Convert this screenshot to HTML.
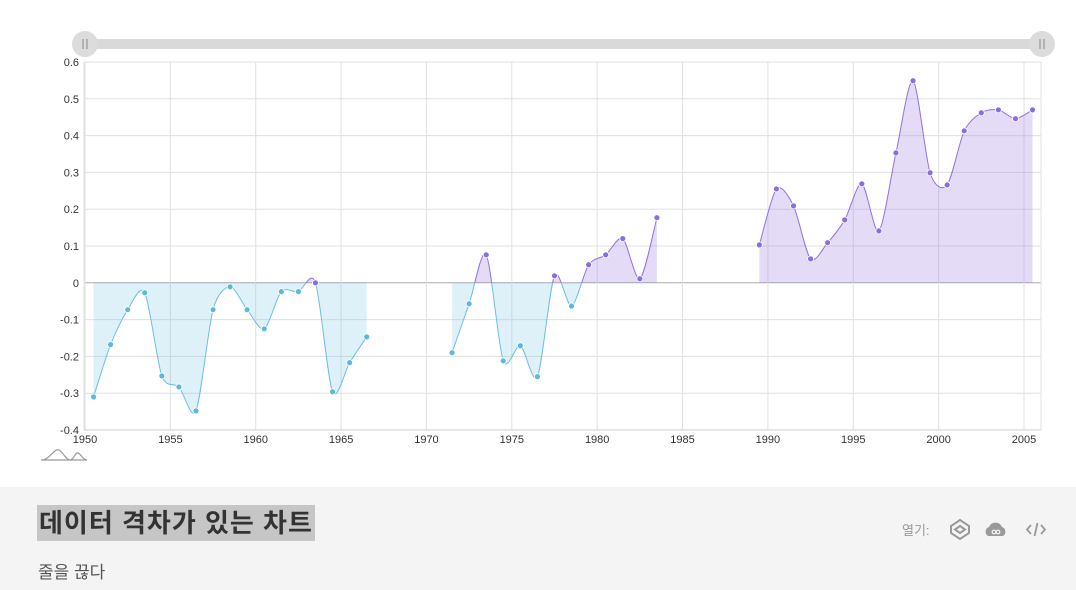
<!DOCTYPE html>
<html><head><meta charset="utf-8">
<style>
body{margin:0;width:1076px;height:590px;overflow:hidden;background:#fff;font-family:"Liberation Sans","Noto Sans CJK KR",sans-serif;}
#footer{position:absolute;left:0;top:487px;width:1076px;height:103px;background:#f4f4f4;}
#title{position:absolute;left:37px;top:18px;height:36px;line-height:36px;padding:0 2px;background:#c6c6c6;font-size:26px;letter-spacing:1px;font-weight:bold;color:#333;}
#sub{position:absolute;left:38px;top:71px;font-size:17px;color:#555;}
#open{position:absolute;left:902px;top:33px;font-size:13px;color:#999;}
</style></head><body>
<svg id="chart" width="1076" height="487" style="position:absolute;left:0;top:0"></svg>
<div id="footer">
<div id="title">데이터 격차가 있는 차트</div>
<div id="sub">줄을 끊다</div>
<div id="open">열기:</div>
<svg style="position:absolute;left:948px;top:31px" width="100" height="22">
<g fill="none" stroke="#999" stroke-width="2"><polygon points="12,2 21,8 21,15 12,21 3,15 3,8"/><polygon points="12,8 17,11.5 12,15 7,11.5"/></g>
<g><path d="M40,18 a5,5 0 0 1 1,-9 a7,7 0 0 1 13,0 a5,5 0 0 1 1,9z" fill="#999"/><circle cx="46" cy="14" r="1.8" fill="none" stroke="#f4f4f4" stroke-width="1.2"/><circle cx="50" cy="14" r="1.8" fill="none" stroke="#f4f4f4" stroke-width="1.2"/></g>
<g fill="none" stroke="#999" stroke-width="1.8"><polyline points="83,7 79,11.5 83,16"/><polyline points="93,7 97,11.5 93,16"/><line x1="89.5" y1="5" x2="86.5" y2="18"/></g>
</svg>
</div>
<script>
const years=[1950.5,1951.5,1952.5,1953.5,1954.5,1955.5,1956.5,1957.5,1958.5,1959.5,1960.5,1961.5,1962.5,1963.5,1964.5,1965.5,1966.5,1967.5,1968.5,1969.5,1970.5,1971.5,1972.5,1973.5,1974.5,1975.5,1976.5,1977.5,1978.5,1979.5,1980.5,1981.5,1982.5,1983.5,1984.5,1985.5,1986.5,1987.5,1988.5,1989.5,1990.5,1991.5,1992.5,1993.5,1994.5,1995.5,1996.5,1997.5,1998.5,1999.5,2000.5,2001.5,2002.5,2003.5,2004.5,2005.5];
const values=[-0.31,-0.168,-0.073,-0.027,-0.253,-0.283,-0.348,-0.073,-0.011,-0.073,-0.125,-0.024,-0.024,0,-0.296,-0.217,-0.147,null,null,null,null,-0.19,-0.057,0.076,-0.212,-0.171,-0.255,0.019,-0.063,0.049,0.076,0.12,0.011,0.177,null,null,null,null,null,0.103,0.255,0.209,0.065,0.109,0.171,0.269,0.141,0.353,0.549,0.299,0.266,0.413,0.462,0.47,0.446,0.47];
const xTicks=[1950,1955,1960,1965,1970,1975,1980,1985,1990,1995,2000,2005];
const yTicks=[0.6,0.5,0.4,0.3,0.2,0.1,0,-0.1,-0.2,-0.3,-0.4];
const NS='http://www.w3.org/2000/svg';
const svg=document.getElementById('chart');
const L=84,R=1041,T=62,B=430;
const x=v=>85+(v-1950)*(1024-85)/55;
const y=v=>T+(0.6-v)*(B-T)/1.0;
function mk(t,a,p){const e=document.createElementNS(NS,t);for(const k in a)e.setAttribute(k,a[k]);(p||svg).appendChild(e);return e;}
const gg=mk('g',{});


yTicks.forEach(v=>{mk('line',{x1:L,x2:R,y1:y(v),y2:y(v),stroke:v===0?'#aaa':'#e0e0e0'},gg);
 const t=mk('text',{x:L-5,y:y(v)+4,'text-anchor':'end','font-size':11,fill:'#333'});t.textContent=v;
 });
xTicks.forEach(v=>{mk('line',{x1:x(v),x2:x(v),y1:T,y2:B,stroke:'#e0e0e0'},gg);
 const t=mk('text',{x:x(v),y:B+13,'text-anchor':'middle','font-size':11,fill:'#333'});t.textContent=v;
 });
mk('line',{x1:L,x2:L,y1:T,y2:B,stroke:'#e0e0e0'});mk('line',{x1:R,x2:R,y1:T,y2:B,stroke:'#e0e0e0'});
mk('line',{x1:L,x2:R,y1:B,y2:B,stroke:'#ccc'});
const segs=[];let cur=[];
years.forEach((yr,i)=>{if(values[i]===null){if(cur.length)segs.push(cur);cur=[];}else cur.push([x(yr),y(values[i])]);});
if(cur.length)segs.push(cur);
function curve(p){let d='M'+p[0][0]+','+p[0][1];for(let i=0;i<p.length-1;i++){const p0=p[Math.max(0,i-1)],p1=p[i],p2=p[i+1],p3=p[Math.min(p.length-1,i+2)];const k=0.14;
 const c1=[p1[0]+(p2[0]-p0[0])*k,p1[1]+(p2[1]-p0[1])*k],c2=[p2[0]-(p3[0]-p1[0])*k,p2[1]-(p3[1]-p1[1])*k];d+=`C${c1[0]},${c1[1]} ${c2[0]},${c2[1]} ${p2[0]},${p2[1]}`;}return d;}
const defs=mk('defs',{});
const cp=mk('clipPath',{id:'pos'},defs);mk('rect',{x:0,y:0,width:1076,height:y(0)},cp);
const cn=mk('clipPath',{id:'neg'},defs);mk('rect',{x:0,y:y(0),width:1076,height:487},cn);
[['pos','#9370e0','rgba(147,112,224,0.25)'],['neg','#6cbfe0','rgba(108,191,224,0.22)']].forEach(([c,lc,fc])=>{
 const g=mk('g',{'clip-path':`url(#${c})`});
 
 
 segs.forEach(s=>{const d=curve(s);
  const a=mk('path',{d:d+`L${s[s.length-1][0]},${y(0)}L${s[0][0]},${y(0)}Z`,fill:fc},g);
  
  const l=mk('path',{d:d,fill:'none',stroke:lc,'stroke-width':1},g);
  });
});
years.forEach((yr,i)=>{if(values[i]===null)return;const c=mk('circle',{cx:x(yr),cy:y(values[i]),r:3,fill:values[i]>=0?'#8a6ee0':'#5fb8dc',stroke:'#fff','stroke-width':0.8});
 });
const sl=mk('g',{});


mk('rect',{x:85,y:39,width:957,height:10,fill:'#d9d9d9'},sl);
[85,1042].forEach(cx=>{const h=mk('circle',{cx:cx,cy:44,r:13,fill:'#dcdcdc'},sl);
 
 mk('line',{x1:cx-2,x2:cx-2,y1:39,y2:49,stroke:'#888'},sl);mk('line',{x1:cx+2,x2:cx+2,y1:39,y2:49,stroke:'#888'},sl);});
const lg=mk('path',{d:'M41,460 C50,460 54,448 59,450 C63,452 66,460 70,460 C74,460 75,452 78,453 C81,454 83,460 87,460 M41,460 L87,460',fill:'none',stroke:'#999','stroke-width':1.2});

</script>
</body></html>
